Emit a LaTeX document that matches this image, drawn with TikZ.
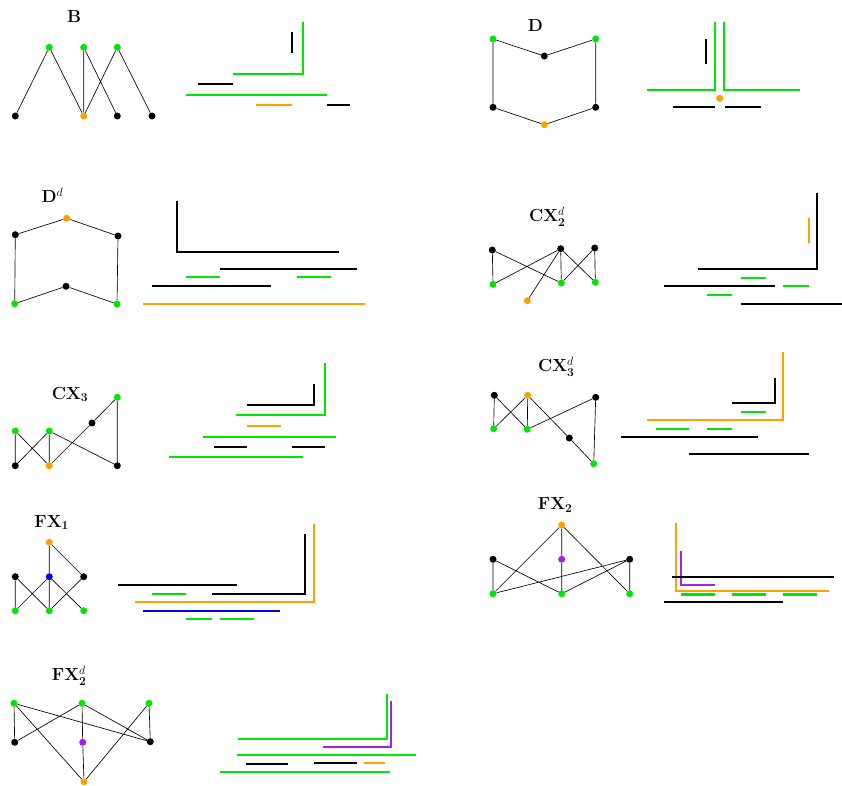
\documentclass[tikz,border=0pt]{standalone}
\usepackage{tikz}
\definecolor{grn}{RGB}{0,230,0}
\definecolor{org}{RGB}{255,160,0}
\definecolor{prp}{RGB}{160,32,240}
\tikzset{
  vx/.style={circle, fill=#1, inner sep=0pt, minimum size=7pt},
  vx/.default=black,
  edge/.style={line width=0.65pt},
  iv/.style={line width=2.3pt, draw=#1},
  iv/.default=black,
  ttl/.style={font=\fontsize{17.5}{20}\selectfont\bfseries, inner sep=0pt}
}

\begin{document}
\begin{tikzpicture}[x=1pt, y=-1pt]
    \useasboundingbox (0,0) rectangle (842,785);

    % B
    \node[ttl] (tB) at (74,16.8) {B};
    \node[vx=grn] (b1) at (49.3,47.3) {};
    \node[vx=grn] (b2) at (83.7,47.3) {};
    \node[vx=grn] (b3) at (117.3,47.3) {};
    \node[vx] (b4) at (15.3,116) {};
    \node[vx=org] (b5) at (83.7,116) {};
    \node[vx] (b6) at (117.3,116) {};
    \node[vx] (b7) at (152,116) {};
    \draw[edge] (b1) -- (b4) (b1) -- (b5) (b2) -- (b5) (b2) -- (b6) (b3) -- (b5) (b3) -- (b7);
    \draw[iv=grn] (303.3,22) |- (233.3,74);
    \draw[iv] (291.7,32.3) -- (291.7,53.3);
    \draw[iv] (198,84.3) -- (232.7,84.3);
    \draw[iv=grn] (186,95) -- (326.7,95);
    \draw[iv=org] (256.3,105.3) -- (292,105.3);
    \draw[iv] (327,105.3) -- (350.3,105.3);

    % D
    \node[ttl] (tD) at (535.3,25.8) {D};
    \node[vx=grn] (d1) at (493,39) {};
    \node[vx] (d2) at (544.3,56) {};
    \node[vx=grn] (d3) at (595.7,39) {};
    \node[vx] (d4) at (493,107.3) {};
    \node[vx=org] (d5) at (544.3,124.7) {};
    \node[vx] (d6) at (595.7,107.3) {};
    \draw[edge] (d1) -- (d2) -- (d3) -- (d6) -- (d5) -- (d4) -- (d1);
    \draw[iv=grn] (715,22) |- (647.3,90);
    \draw[iv=grn] (723.7,22) |- (800,90);
    \draw[iv] (706.3,39) -- (706.3,64.3);
    \node[vx=org] (dpt) at (719.7,98.3) {};
    \draw[iv] (672.7,107.3) -- (715,107.3);
    \draw[iv] (725.3,107.3) -- (760.7,107.3);

    % D^d
    \node[ttl] (tDd) at (52.5,195) {D$^{d}$};
    \node[vx=org] (dd1) at (66.7,218.3) {};
    \node[vx] (dd2) at (15.3,234.7) {};
    \node[vx] (dd3) at (118,236) {};
    \node[vx] (dd4) at (66,286.3) {};
    \node[vx=grn] (dd5) at (14.7,303.7) {};
    \node[vx=grn] (dd6) at (117,304) {};
    \draw[edge] (dd1) -- (dd2) -- (dd5) -- (dd4) -- (dd6) -- (dd3) -- (dd1);
    \draw[iv] (177.3,201.3) |- (339.3,252.3);
    \draw[iv] (220.3,269) -- (356.7,269);
    \draw[iv=grn] (186,277.3) -- (220,277.3);
    \draw[iv=grn] (296.7,277.3) -- (331,277.3);
    \draw[iv] (151.7,286.3) -- (271.3,286.3);
    \draw[iv=org] (143.3,303.7) -- (365.3,303.7);

    % CX_2^d
    \node[ttl] (tC2d) at (547.3,216.7) {CX$_{\mathbf{2}}^{d}$};
    \node[vx] (c1) at (492.3,250) {};
    \node[vx] (c2) at (560.7,248.7) {};
    \node[vx] (c3) at (594.7,248) {};
    \node[vx=grn] (c4) at (493,284.3) {};
    \node[vx=grn] (c5) at (561.3,283) {};
    \node[vx=grn] (c6) at (595.3,282.3) {};
    \node[vx=org] (c7) at (527.3,300.7) {};
    \draw[edge] (c1) -- (c4) (c1) -- (c5) (c2) -- (c4) (c2) -- (c5) (c2) -- (c6) (c2) -- (c7) (c3) -- (c5) (c3) -- (c6);
    \draw[iv] (817.3,192.7) |- (698.3,269);
    \draw[iv=org] (808.7,218.3) -- (808.7,243.3);
    \draw[iv=grn] (740.7,277.7) -- (766,277.7);
    \draw[iv] (664,286.3) -- (774.7,286.3);
    \draw[iv=grn] (783.3,286.3) -- (808.7,286.3);
    \draw[iv=grn] (706.7,295) -- (732,295);
    \draw[iv] (740.7,303.7) -- (842,303.7);

    % CX_3
    \node[ttl] (tC3) at (70,394.3) {CX$_{\mathbf{3}}$};
    \node[vx=grn] (x1) at (15.3,431) {};
    \node[vx=grn] (x2) at (49.3,431) {};
    \node[vx] (x3) at (92,423) {};
    \node[vx=grn] (x4) at (117.3,397.3) {};
    \node[vx] (x5) at (15.3,465.7) {};
    \node[vx=org] (x6) at (49.3,465.7) {};
    \node[vx] (x7) at (117.3,465.7) {};
    \draw[edge] (x1) -- (x5) (x1) -- (x6) (x2) -- (x5) (x2) -- (x6) (x2) -- (x7) (x6) -- (x3) -- (x4) -- (x7);
    \draw[iv=grn] (325.3,363.3) |- (236,415.3);
    \draw[iv] (313.7,384.3) |- (247.3,405.3);
    \draw[iv=org] (247.3,426) -- (280.7,426);
    \draw[iv=grn] (202.7,436.7) -- (336,436.7);
    \draw[iv] (213.7,446.7) -- (247,446.7);
    \draw[iv] (292,446.7) -- (325,446.7);
    \draw[iv=grn] (169.3,457) -- (302.7,457);

    % CX_3^d
    \node[ttl] (tC3d) at (556.3,366.7) {CX$_{\mathbf{3}}^{d}$};
    \node[vx] (xd1) at (494.3,395.3) {};
    \node[vx=org] (xd2) at (527.7,395.3) {};
    \node[vx] (xd3) at (595.7,397.3) {};
    \node[vx=grn] (xd4) at (493.7,428.7) {};
    \node[vx=grn] (xd5) at (527.3,429.3) {};
    \node[vx] (xd6) at (569.3,438) {};
    \node[vx=grn] (xd7) at (593.7,463.7) {};
    \draw[edge] (xd1) -- (xd4) (xd1) -- (xd5) (xd2) -- (xd4) (xd2) -- (xd5) (xd2) -- (xd6) -- (xd7) (xd5) -- (xd3) -- (xd7);
    \draw[iv=org] (783.3,352) |- (647.3,420);
    \draw[iv] (775,378.3) |- (732.3,403.3);
    \draw[iv=grn] (740.7,411.7) -- (766,411.7);
    \draw[iv=grn] (655.7,428.7) -- (689.3,428.7);
    \draw[iv=grn] (706.7,428.7) -- (732,428.7);
    \draw[iv] (621.3,437.3) -- (758,437.3);
    \draw[iv] (689.3,454.3) -- (808.7,454.3);

    % FX_1
    \node[ttl] (tF1) at (51.7,522.5) {FX$_{\mathbf{1}}$};
    \node[vx=org] (f1) at (49.3,542.3) {};
    \node[vx] (f2) at (15.3,576.7) {};
    \node[vx=blue] (f3) at (49.3,576.7) {};
    \node[vx] (f4) at (83.7,576.7) {};
    \node[vx=grn] (f5) at (15.3,610.7) {};
    \node[vx=grn] (f6) at (49.3,610.7) {};
    \node[vx=grn] (f7) at (83.7,610.7) {};
    \draw[edge] (f1) -- (f3) (f1) -- (f4) (f2) -- (f5) (f2) -- (f6) (f3) -- (f5) (f3) -- (f6) (f3) -- (f7) (f4) -- (f6);
    \draw[iv=org] (314.3,524) |- (135,602.3);
    \draw[iv] (305.3,534.3) |- (211.7,593.7);
    \draw[iv] (118,585.3) -- (237.3,585.3);
    \draw[iv=grn] (152,593.7) -- (186,593.7);
    \draw[iv=blue] (143.3,610.7) -- (280,610.7);
    \draw[iv=grn] (186,619) -- (211.7,619);
    \draw[iv=grn] (220,619) -- (254.3,619);

    % FX_2
    \node[ttl] (tF2) at (555.2,505) {FX$_{\mathbf{2}}$};
    \node[vx=org] (g1) at (561.7,525) {};
    \node[vx] (g2) at (493,559.3) {};
    \node[vx=prp] (g3) at (561.7,559.3) {};
    \node[vx] (g4) at (629.7,559.3) {};
    \node[vx=grn] (g5) at (493,593.7) {};
    \node[vx=grn] (g6) at (561.7,593.7) {};
    \node[vx=grn] (g7) at (629.7,593.7) {};
    \draw[edge] (g1) -- (g5) (g1) -- (g3) -- (g6) (g1) -- (g7) (g2) -- (g5) (g2) -- (g6) (g4) -- (g5) (g4) -- (g6) (g4) -- (g7);
    \draw[iv=org] (676,523.3) |- (829.3,591.3);
    \draw[iv=prp] (681,551.3) |- (714.7,585.3);
    \draw[iv] (672.3,576.7) -- (834.3,576.7);
    \draw[iv=grn] (681,594.5) -- (714.7,594.5);
    \draw[iv=grn] (732.3,594.5) -- (766,594.5);
    \draw[iv=grn] (783.3,594.5) -- (817.3,594.5);
    \draw[iv] (664,602.3) -- (783.3,602.3);

    % FX_2^d
    \node[ttl] (tF2d) at (69.2,675.7) {FX$_{\mathbf{2}}^{d}$};
    \node[vx=grn] (gd1) at (14,703.3) {};
    \node[vx=grn] (gd2) at (82,703.3) {};
    \node[vx=grn] (gd3) at (149,703.3) {};
    \node[vx] (gd4) at (14.7,742.3) {};
    \node[vx=prp] (gd5) at (82.7,742.3) {};
    \node[vx] (gd6) at (150.3,741.7) {};
    \node[vx=org] (gd7) at (84,781.7) {};
    \draw[edge] (gd1) -- (gd4) (gd1) -- (gd6) (gd1) -- (gd7) (gd2) -- (gd4) (gd2) -- (gd5) -- (gd7) (gd2) -- (gd6) (gd3) -- (gd6) (gd3) -- (gd7);
    \draw[iv=grn] (386.7,694) |- (237.7,738.7);
    \draw[iv=prp] (391,701.3) |- (322.7,747);
    \draw[iv=grn] (237,755.3) -- (416,755.3);
    \draw[iv] (246,764.3) -- (287.7,764.3);
    \draw[iv] (314.3,762.7) -- (356.7,762.7);
    \draw[iv=org] (363.7,762.7) -- (385.3,762.7);
    \draw[iv=grn] (220,771.7) -- (390.3,771.7);
\end{tikzpicture}
\end{document}
